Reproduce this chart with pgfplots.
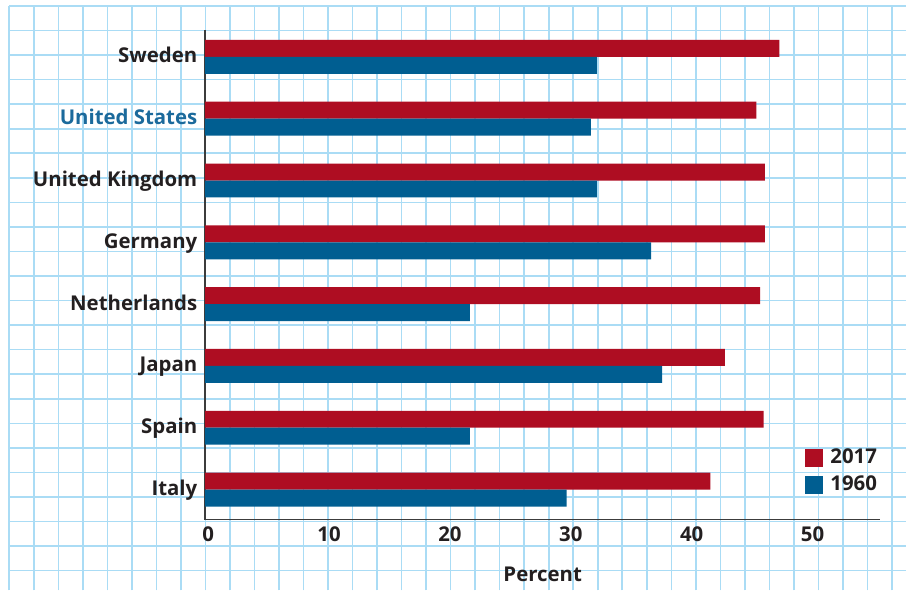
\documentclass[border=0pt]{standalone}
\usepackage{fontspec}
\setmainfont{Open Sans}
\usepackage{pgfplots}
\pgfplotsset{compat=1.18}

\definecolor{barred}{HTML}{AE0D22}
\definecolor{barblue}{HTML}{005E91}
\definecolor{gridblue}{HTML}{AADCF5}
\definecolor{inkc}{HTML}{231F20}
\definecolor{usblue}{HTML}{1B6A9C}
\definecolor{axisgray}{HTML}{3C3C3C}

\begin{document}
\begin{tikzpicture}[x=1pt,y=1pt]
% page and graph-paper background
\fill[white] (0,0) rectangle (453.5,295.5);
\foreach \k in {0,...,36}
  \draw[gridblue, line width=0.8pt] ({(9.3+24.54*\k)*0.5},0) -- ({(9.3+24.54*\k)*0.5},292.5);
\foreach \k in {0,...,23}
  \draw[gridblue, line width=0.8pt] (4.65,{(585-24.57*\k)*0.5}) -- (453.5,{(585-24.57*\k)*0.5});

\begin{axis}[
  at={(102.65pt,35.5pt)}, anchor=south west,
  scale only axis, width=337.85pt, height=245pt,
  xmin=0, xmax=55.84, ymin=-0.485, ymax=7.436,
  axis x line=bottom, axis y line=left,
  axis line style={axisgray, line width=0.8pt, -},
  xtick={0,10,...,50}, ytick={0,...,7},
  yticklabels={Italy,Spain,Japan,Netherlands,Germany,United Kingdom,{\color{usblue}United States},Sweden},
  major tick length=0pt,
  /pgf/number format/assume math mode=true,
  tick label style={font=\fontsize{10.2}{12}\selectfont\bfseries, text=inkc},
  xticklabel style={xshift=1.5pt},
  yticklabel style={text height=0.72em, text depth=0pt, yshift=0.6pt, xshift=-0.4pt},
  xlabel={Percent},
  xlabel style={font=\fontsize{10.2}{12}\selectfont\bfseries, text=inkc,
    at={(axis description cs:0.5,0)}, anchor=center, yshift=-27.5pt},
  xbar, bar width=8.5pt,
  legend style={draw=none, fill=none, at={(0.8875,0.153)}, anchor=north west,
    inner sep=0pt, row sep=0.5pt, column sep=1.9pt,
    font=\fontsize{10.2}{12}\selectfont\bfseries, text=inkc},
  legend cell align=left,
  legend image code/.code={\fill[#1] (0pt,-4.5pt) rectangle (9pt,4.5pt);},
]
% 2017
\addplot[fill=barred, draw=none, bar shift=4.25pt] coordinates {
  (41.8,0) (46.2,1) (43.0,2) (45.9,3) (46.3,4) (46.3,5) (45.6,6) (47.5,7)};
\addlegendentry{2017}
% 1960
\addplot[fill=barblue, draw=none, bar shift=-4.25pt] coordinates {
  (29.9,0) (21.9,1) (37.8,2) (21.9,3) (36.9,4) (32.4,5) (31.9,6) (32.4,7)};
\addlegendentry{1960}
\end{axis}
\end{tikzpicture}
\end{document}
